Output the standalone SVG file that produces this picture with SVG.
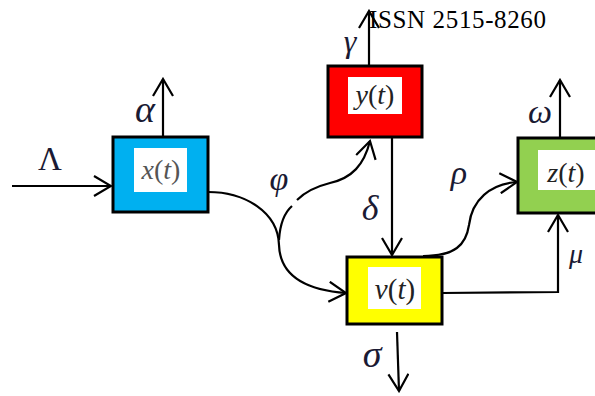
<svg xmlns="http://www.w3.org/2000/svg" width="595" height="396" viewBox="0 0 595 396">
<defs>
<marker id="ah" viewBox="0 0 20 22" refX="18" refY="11" markerWidth="20" markerHeight="22" markerUnits="userSpaceOnUse" orient="auto">
<path d="M1,1 L18,11 L1,21" fill="none" stroke="#000" stroke-width="2.2"/>
</marker>
</defs>
<style>
.box{stroke:#000;stroke-width:3}
.lbl{fill:#fff}
.c{fill:none;stroke:#000;stroke-width:2.2}
</style>
<rect width="595" height="396" fill="#fff"/>
<g id="connectors">
<line class="c" x1="12" y1="186" x2="111" y2="186" marker-end="url(#ah)"/>
<line class="c" x1="163" y1="137" x2="163" y2="79" marker-end="url(#ah)"/>
<line class="c" x1="369" y1="66" x2="369" y2="11" marker-end="url(#ah)"/>
<line class="c" x1="560" y1="138" x2="560" y2="80" marker-end="url(#ah)"/>
<line class="c" x1="392" y1="137" x2="392" y2="255" marker-end="url(#ah)"/>
<line class="c" x1="397" y1="332" x2="399" y2="391" marker-end="url(#ah)"/>
<path class="c" d="M442,293 L558,292 L558,215" marker-end="url(#ah)"/>
<path class="c" d="M208,192 C245,192 278,212 279,245 C280,275 305,290 346,293" marker-end="url(#ah)"/>
<path class="c" d="M279,240 C280,224 284,213 292,206"/>
<path class="c" d="M297,200 C305,192 318,186 330,183 C352,178 364,165 370,141" marker-end="url(#ah)"/>
<path class="c" d="M423,256 C455,256 466,245 469,225 C472,200 490,184 517,182" marker-end="url(#ah)"/>
</g>
<g id="node-x">
<rect class="box" x="113" y="137" width="95" height="75" fill="#00B0F0"/>
<rect class="lbl" x="134" y="148" width="53" height="44"/>
<text x="161" y="179" font-family="Liberation Serif, serif" font-size="28" text-anchor="middle" fill="#555"><tspan font-style="italic">x</tspan>(<tspan font-style="italic">t</tspan>)</text>
</g>
<g id="node-y">
<rect class="box" x="328" y="66" width="94" height="71" fill="#FF0000"/>
<rect class="lbl" x="348" y="77" width="54" height="37"/>
<text x="375" y="104" font-family="Liberation Serif, serif" font-size="28" text-anchor="middle" fill="#222"><tspan font-style="italic">y</tspan>(<tspan font-style="italic">t</tspan>)</text>
</g>
<g id="node-v">
<rect class="box" x="347" y="257" width="95" height="67" fill="#FFFF00"/>
<rect class="lbl" x="368" y="267" width="53" height="42"/>
<text x="395" y="299" font-family="Liberation Serif, serif" font-size="29" text-anchor="middle" fill="#222"><tspan font-style="italic">v</tspan>(<tspan font-style="italic">t</tspan>)</text>
</g>
<g id="node-z">
<rect class="box" x="518" y="138" width="90" height="75" fill="#92D050"/>
<rect class="lbl" x="538" y="150" width="60" height="40"/>
<text x="566" y="182" font-family="Liberation Serif, serif" font-size="28" text-anchor="middle" fill="#222"><tspan font-style="italic">z</tspan>(<tspan font-style="italic">t</tspan>)</text>
</g>
<g id="labels" font-family="Liberation Serif, serif" fill="#1a1a33" text-anchor="middle">
<text x="50" y="170" font-size="33">Λ</text>
<text x="145" y="122" font-size="38" font-style="italic">α</text>
<text x="350" y="52" font-size="32" font-style="italic">γ</text>
<text x="540" y="123" font-size="34" font-style="italic">ω</text>
<text x="279" y="190" font-size="34" font-style="italic">φ</text>
<text x="370" y="220" font-size="36" font-style="italic">δ</text>
<text x="459" y="184" font-size="34" font-style="italic">ρ</text>
<text x="576" y="263" font-size="28" font-style="italic">μ</text>
<text x="372" y="367" font-size="38" font-style="italic">σ</text>
</g>
<text x="369" y="28" font-family="Liberation Serif, serif" font-size="25" textLength="177" fill="#000">ISSN 2515-8260</text>
</svg>
